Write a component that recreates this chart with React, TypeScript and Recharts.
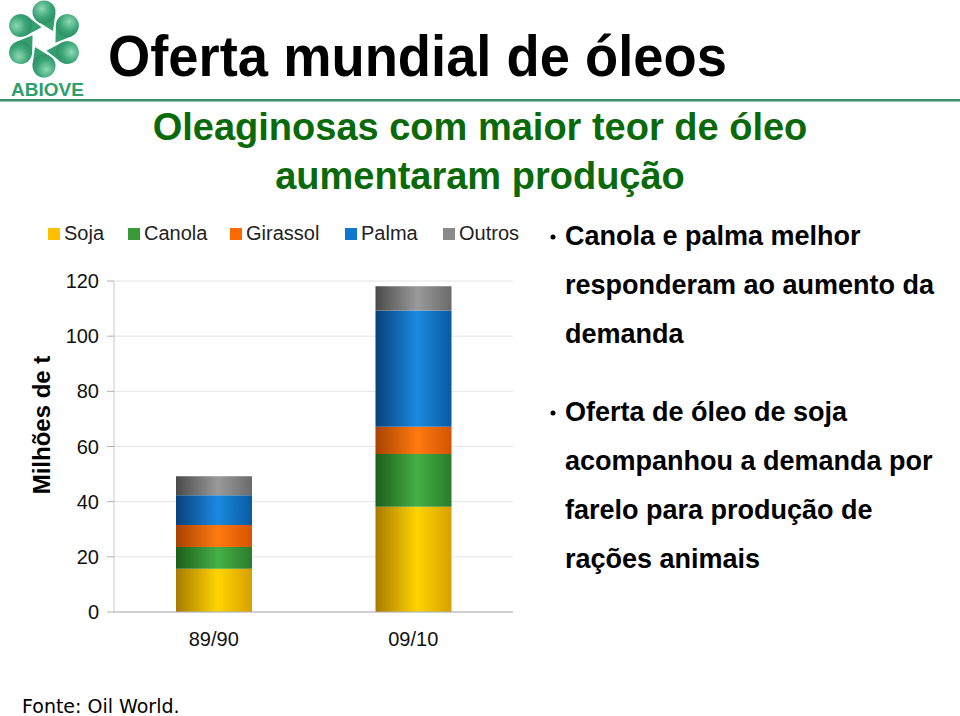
import React from 'react';
import { BarChart, Bar, XAxis, YAxis, CartesianGrid, Legend } from 'recharts';

const categories = ['89/90', '09/10'];
const soja = [15.7, 38.2];
const canola = [7.9, 19.1];
const girassol = [7.9, 9.9];
const palma = [10.8, 42.1];
const outros = [6.9, 8.8];
const yTicks = [0, 20, 40, 60, 80, 100, 120];

const seriesNames = ['Soja', 'Canola', 'Girassol', 'Palma', 'Outros'];
const seriesKeys = ['soja', 'canola', 'girassol', 'palma', 'outros'];
const seriesColors = ['#ffc000', '#3a9a3a', '#ff6a00', '#1078cc', '#8a8a8a'];
const gradStops = [
  ['#a87a00', '#ffd400', '#d7a000'],
  ['#1c5e1c', '#45b045', '#2a7d2a'],
  ['#a84200', '#ff7a10', '#d45400'],
  ['#08407a', '#1a8ae0', '#0a5aa0'],
  ['#4a4a4a', '#9a9a9a', '#6a6a6a'],
];

const data = categories.map((c, i) => ({
  name: c,
  soja: soja[i],
  canola: canola[i],
  girassol: girassol[i],
  palma: palma[i],
  outros: outros[i],
}));

const FONT = '"Liberation Sans", Arial, Helvetica, sans-serif';

const LegendContent = (props: any) => {
  const payload = [...(props.payload || [])].sort(
    (a: any, b: any) => seriesNames.indexOf(a.value) - seriesNames.indexOf(b.value)
  );
  const starts = [48, 128, 230, 345, 443];
  return (
    <div style={{ position: 'relative', width: 530, height: 30 }}>
      {payload.map((p: any) => {
        const idx = seriesNames.indexOf(p.value);
        return (
          <div key={p.value} style={{ position: 'absolute', left: starts[idx], top: 0, display: 'flex', alignItems: 'center', fontFamily: FONT, fontSize: 20, color: '#222', whiteSpace: 'nowrap' }}>
            <span style={{ display: 'inline-block', width: 12, height: 12, background: seriesColors[idx], marginRight: 4 }} />
            <span>{p.value}</span>
          </div>
        );
      })}
    </div>
  );
};

const petalAngles = [0, 60, 120, 180, 240, 300];

const Logo = () => (
  <g>
    <defs>
      <radialGradient id="petalGrad" cx="0.4" cy="0.35" r="0.75">
        <stop offset="0%" stopColor="#8fd8b5" />
        <stop offset="55%" stopColor="#3aa577" />
        <stop offset="100%" stopColor="#2a8a60" />
      </radialGradient>
    </defs>
    <g transform="translate(44,39)">
      {petalAngles.map((a) => (
        <g key={a} transform={`rotate(${a})`}>
          <polygon points="-6,-17.2 9,-8 11.4,-25.4" fill="#34a070" />
          <circle cx={0} cy={-27} r={11.5} fill="url(#petalGrad)" />
        </g>
      ))}
    </g>
    <text x={11} y={96} fontFamily={FONT} fontWeight="bold" fontSize={19} fill="#2e9e6a">ABIOVE</text>
  </g>
);

const bulletLines1 = ['Canola e palma melhor', 'responderam ao aumento da', 'demanda'];
const bulletLines2 = ['Oferta de óleo de soja', 'acompanhou a demanda por', 'farelo para produção de', 'rações animais'];

export default function App() {
  return (
    <div style={{ position: 'absolute', left: 0, top: 0, width: 960, height: 716, background: '#fff', overflow: 'hidden' }}>
      <svg width={960} height={716} style={{ position: 'absolute', left: 0, top: 0 }}>
        <Logo />
        <rect x={0} y={99} width={960} height={2.5} fill="#3c8f6a" />
        <text x={108} y={76} fontFamily={FONT} fontWeight="bold" fontSize={57} fill="#000" textLength={619} lengthAdjust="spacingAndGlyphs">Oferta mundial de óleos</text>
        <text x={480} y={140} textAnchor="middle" fontFamily={FONT} fontWeight="bold" fontSize={38} fill="#0a6a0a">Oleaginosas com maior teor de óleo</text>
        <text x={480} y={189} textAnchor="middle" fontFamily={FONT} fontWeight="bold" fontSize={38} fill="#0a6a0a">aumentaram produção</text>
        {bulletLines1.map((t, i) => (
          <text key={'a' + i} x={565} y={245 + i * 49} fontFamily={FONT} fontWeight="bold" fontSize={27} fill="#000">{t}</text>
        ))}
        <circle cx={553} cy={237} r={2.5} fill="#000" />
        {bulletLines2.map((t, i) => (
          <text key={'b' + i} x={565} y={421 + i * 49} fontFamily={FONT} fontWeight="bold" fontSize={27} fill="#000">{t}</text>
        ))}
        <circle cx={553} cy={413} r={2.5} fill="#000" />
        <text transform="translate(50,425) rotate(-90)" textAnchor="middle" fontFamily={FONT} fontWeight="bold" fontSize={24} fill="#000">Milhões de t</text>
        <text x={22} y={713} fontFamily='"DejaVu Sans", Verdana, sans-serif' fontSize={19} fill="#000">Fonte: Oil World.</text>
      </svg>
      <div style={{ position: 'absolute', left: 0, top: 0 }}>
        <BarChart width={530} height={680} data={data} margin={{ top: 251, right: 17, bottom: 28, left: 0 }} barSize={76}>
          <defs>
            {gradStops.map((g, i) => (
              <linearGradient key={i} id={`cyl${i}`} x1="0" y1="0" x2="1" y2="0">
                <stop offset="0%" stopColor={g[0]} />
                <stop offset="55%" stopColor={g[1]} />
                <stop offset="100%" stopColor={g[2]} />
              </linearGradient>
            ))}
          </defs>
          <CartesianGrid horizontal={true} vertical={false} stroke="#e4e4e4" />
          <XAxis dataKey="name" height={40} axisLine={{ stroke: '#b0b0b0' }} tickLine={false} tick={{ fontFamily: FONT, fontSize: 20, fill: '#111' }} tickMargin={14} />
          <YAxis width={114} domain={[0, 120]} ticks={yTicks} axisLine={{ stroke: '#c8c8c8' }} tickLine={{ stroke: '#b0b0b0' }} tickSize={7} tickMargin={8} tick={{ fontFamily: FONT, fontSize: 20, fill: '#111' }} />
          <Legend verticalAlign="top" content={<LegendContent />} wrapperStyle={{ position: 'absolute', left: 0, top: 222, width: 530, height: 30 }} />
          {seriesKeys.map((k, i) => (
            <Bar key={k} dataKey={k} name={seriesNames[i]} stackId="a" fill={`url(#cyl${i})`} isAnimationActive={false} />
          ))}
        </BarChart>
      </div>
    </div>
  );
}
